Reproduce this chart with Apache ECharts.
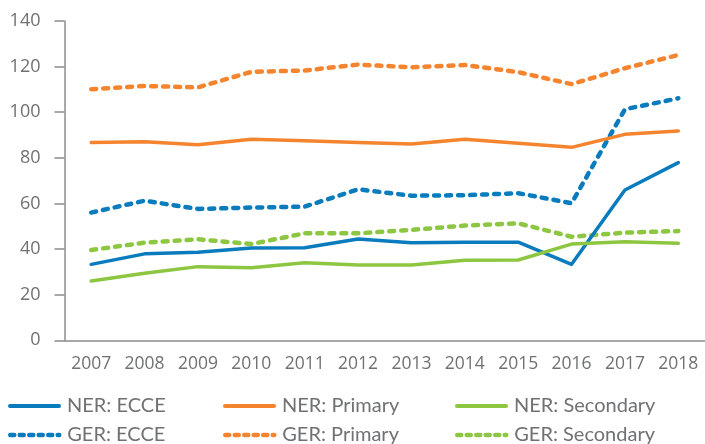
<!DOCTYPE html>
<html>
<head>
<meta charset="utf-8">
<script src="https://cdn.jsdelivr.net/npm/echarts@6/dist/echarts.min.js"></script>
<style>
  html, body { margin: 0; padding: 0; background: #fff; }
  #chart { width: 705px; height: 444px; }
</style>
</head>
<body>
<div id="chart"></div>
<script>
const years = ["2007", "2008", "2009", "2010", "2011", "2012", "2013", "2014", "2015", "2016", "2017", "2018"];

const nerEcce = [33.3, 37.9, 38.6, 40.5, 40.6, 44.4, 42.8, 43.0, 43.0, 33.3, 65.9, 77.9];
const nerPrimary = [86.7, 87.1, 85.7, 88.2, 87.5, 86.7, 86.1, 88.2, 86.4, 84.6, 90.3, 91.8];
const nerSecondary = [26.0, 29.4, 32.3, 31.8, 34.0, 33.0, 33.0, 35.1, 35.2, 42.2, 43.2, 42.5];
const gerEcce = [56.0, 61.2, 57.6, 58.2, 58.6, 66.2, 63.4, 63.6, 64.5, 60.1, 101.3, 106.1];
const gerPrimary = [110.1, 111.5, 110.9, 117.7, 118.3, 120.9, 119.7, 120.7, 117.6, 112.3, 119.3, 125.1];
const gerSecondary = [39.6, 42.8, 44.3, 42.2, 46.9, 46.9, 48.4, 50.3, 51.3, 45.4, 47.2, 47.9];

const BLUE = "#0a7bbd";
const ORANGE = "#f5842f";
const GREEN = "#8dc641";
const TEXT = "#707173";
const AXIS = "#8c8c8c";

function solid(name, data, color) {
  return {
    name, type: "line", data, symbol: "none", z: 3,
    lineStyle: { color, width: 3.5, cap: "round", join: "round" },
    itemStyle: { color },
  };
}

function dashed(name, data, color) {
  return {
    name, type: "line", data, symbol: "none", z: 2,
    lineStyle: { color, width: 4.5, type: [5, 7], cap: "round", join: "round" },
    itemStyle: { color },
  };
}

function legendItem(name, left, top, isDashed) {
  return {
    data: [name], left, top,
    itemWidth: 49, itemHeight: 14,
    selectedMode: false,
    itemStyle: { opacity: 0 },
    lineStyle: isDashed ? { width: 4.5, type: [4, 5.5], cap: "round" } : { width: 4, cap: "round" },
    textStyle: { color: TEXT, fontFamily: "Lato", fontSize: 20, padding: [0, 0, 0, 3] },
  };
}

const chart = echarts.init(document.getElementById("chart"), null, { renderer: "canvas" });
chart.setOption({
  animation: false,
  grid: { left: 64.5, top: 21, width: 647, bottom: 103.7 },
  legend: [
    legendItem("NER: ECCE", 3, 391, false),
    legendItem("NER: Primary", 218, 391, false),
    legendItem("NER: Secondary", 450, 391, false),
    legendItem("GER: ECCE", 3, 420, true),
    legendItem("GER: Primary", 218, 420, true),
    legendItem("GER: Secondary", 450, 420, true),
  ],
  xAxis: {
    type: "category",
    data: years,
    boundaryGap: true,
    axisLine: { lineStyle: { color: AXIS, width: 1.5 } },
    axisTick: { show: false },
    axisLabel: { color: TEXT, fontFamily: "Open Sans", fontSize: 17.5, margin: 15 },
  },
  yAxis: {
    type: "value",
    min: 0, max: 140, interval: 20,
    splitLine: { show: false },
    axisLine: { show: true, lineStyle: { color: AXIS, width: 1.5 } },
    axisTick: { show: true, length: 10, lineStyle: { color: AXIS, width: 1.5 } },
    axisLabel: { color: TEXT, fontFamily: "Open Sans", fontSize: 18, margin: 24 },
  },
  series: [
    solid("NER: ECCE", nerEcce, BLUE),
    solid("NER: Primary", nerPrimary, ORANGE),
    solid("NER: Secondary", nerSecondary, GREEN),
    dashed("GER: ECCE", gerEcce, BLUE),
    dashed("GER: Primary", gerPrimary, ORANGE),
    dashed("GER: Secondary", gerSecondary, GREEN),
  ],
});
</script>
</body>
</html>
